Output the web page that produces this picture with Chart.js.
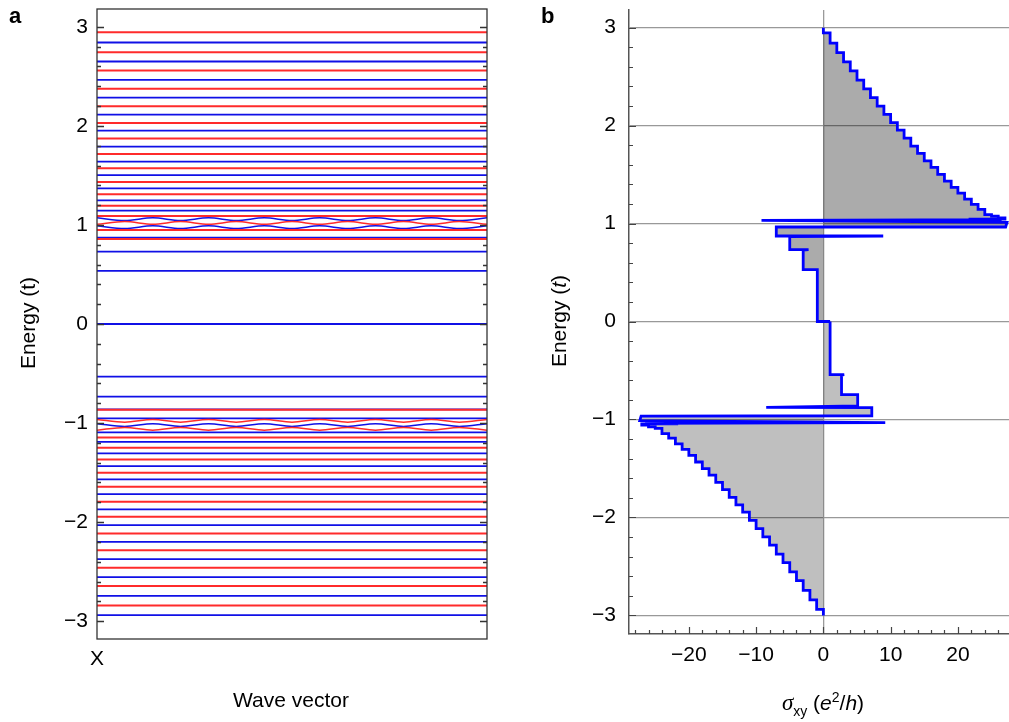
<!DOCTYPE html>
<html>
<head>
<meta charset="utf-8">
<script src="https://cdn.jsdelivr.net/npm/chart.js@4.4.1/dist/chart.umd.min.js"></script>
<style>
	body { margin: 0; background: #fff; width: 1009px; height: 722px; position: relative; overflow: hidden; font-family: 'Liberation Sans', Arial, sans-serif; }
	canvas { position: absolute; top: 0; }
	#chartA { left: 0; }
	#chartB { left: 500px; }
	.txt { position: absolute; color: #000; font-size: 21px; white-space: nowrap; }
	.rot { transform: translate(-50%, -50%) rotate(-90deg); }
	.ctr { transform: translate(-50%, -50%); }
	.sigma { font-family: 'Liberation Serif', serif; font-style: italic; font-size: 23px; }
	sub, sup { font-size: 14px; }
</style>
</head>
<body>
<canvas id="chartA" width="500" height="722"></canvas>
<canvas id="chartB" width="509" height="722"></canvas>
<div class="txt" style="left:9px;top:3px;font-weight:bold;font-size:22px">a</div>
<div class="txt" style="left:541px;top:3px;font-weight:bold;font-size:22px">b</div>
<div class="txt rot" style="left:28px;top:323px">Energy (t)</div>
<div class="txt ctr" style="left:291px;top:700px">Wave vector</div>
<div class="txt rot" style="left:559px;top:321px">Energy (<i>t</i>)</div>
<div class="txt ctr" style="left:823px;top:704px"><span class="sigma">σ</span><sub>xy</sub> (<i>e</i><sup>2</sup>/<i>h</i>)</div>
<script>
// panel a : flat levels (energy in units of t)
const redLevels = [2.946, 2.744, 2.559, 2.374, 2.199, 2.030, 1.872, 1.717, 1.573, 1.434, 1.310, 1.195, 1.091, 0.949, 0.859,
	-0.866, -1.145, -1.249, -1.367, -1.502, -1.643, -1.795, -1.946, -2.114, -2.283, -2.461, -2.646, -2.842];
const blueLevels = [2.842, 2.650, 2.465, 2.286, 2.114, 1.953, 1.791, 1.640, 1.502, 1.370, 1.249, 1.144, 0.872, 0.730, 0.537, 0,
	-0.532, -0.734, -0.862, -0.953, -1.094, -1.190, -1.306, -1.434, -1.569, -1.717, -1.872, -2.030, -2.199, -2.374, -2.556, -2.744, -2.939];

// panel a : oscillating levels near +-1, read at peaks / troughs
const waveK = [0, 0.071, 0.143, 0.214, 0.286, 0.357, 0.429, 0.5, 0.571, 0.643, 0.714, 0.786, 0.857, 0.929, 1];
const redWaves = [
	[1.006, 1.034, 1.006, 1.034, 1.006, 1.034, 1.006, 1.034, 1.006, 1.034, 1.006, 1.034, 1.006, 1.034, 1.006],
	[-1.072, -1.044, -1.072, -1.044, -1.072, -1.044, -1.072, -1.044, -1.072, -1.044, -1.072, -1.044, -1.072, -1.044, -1.072],
	[-0.963, -0.991, -0.963, -0.991, -0.963, -0.991, -0.963, -0.991, -0.963, -0.991, -0.963, -0.991, -0.963, -0.991, -0.963]
];
const blueWaves = [
	[1.072, 1.044, 1.072, 1.044, 1.072, 1.044, 1.072, 1.044, 1.072, 1.044, 1.072, 1.044, 1.072, 1.044, 1.072],
	[0.991, 0.963, 0.991, 0.963, 0.991, 0.963, 0.991, 0.963, 0.991, 0.963, 0.991, 0.963, 0.991, 0.963, 0.991],
	[-1.006, -1.034, -1.006, -1.034, -1.006, -1.034, -1.006, -1.034, -1.006, -1.034, -1.006, -1.034, -1.006, -1.034, -1.006]
];

// panel b : Hall conductivity staircase
const stairUpperE = [2.946, 2.842, 2.744, 2.650, 2.559, 2.465, 2.374, 2.286, 2.199, 2.114, 2.030, 1.953, 1.872,
	1.791, 1.717, 1.640, 1.573, 1.502, 1.434, 1.370, 1.310, 1.249, 1.195, 1.144, 1.091];
const stairUpperSigma = [1, 2, 3, 4, 5, 6, 7, 8, 9, 10, 11, 12, 13, 14, 15, 16, 17, 18, 19, 20, 21, 22, 23, 24, 25];
const coreSigma = [25, 26, 26, 27, 27, 21.8, 21.8, 26.5, -9.2, 27.3, 27.1, -7.0, -7.0, 8.9, -5.0, -5.0, -2.2, -3.0, -3.0, -0.9,
	-0.9, 1.0, 1.0, 3.1, 2.7, 2.7, 5.1, 5.1, -8.5, 7.2, 7.2, -27.1, -27.3, 9.2, -26.5, -21.8, -21.8, -27, -27, -26, -26, -25, -25];
const coreE = [1.075, 1.075, 1.058, 1.058, 1.045, 1.045, 1.04, 1.04, 1.032, 1.012, 0.965, 0.965, 0.873, 0.873, 0.868, 0.734, 0.734,
	0.73, 0.529, 0.529, 0, 0, -0.543, -0.543, -0.548, -0.747, -0.747, -0.862, -0.877, -0.88, -0.962, -0.965, -1.012, -1.032,
	-1.04, -1.04, -1.045, -1.045, -1.058, -1.058, -1.075, -1.075, -1.091];
const stairLowerE = [-1.091, -1.145, -1.190, -1.249, -1.306, -1.367, -1.434, -1.502, -1.569, -1.643, -1.717, -1.795, -1.872,
	-1.946, -2.030, -2.114, -2.199, -2.283, -2.374, -2.461, -2.556, -2.646, -2.744, -2.842, -2.939];
const stairLowerSigma = [-24, -23, -22, -21, -20, -19, -18, -17, -16, -15, -14, -13, -12, -11, -10, -9, -8, -7, -6, -5, -4, -3, -2, -1, 0];

const RED = '#ff2b2b';
const BLUE = '#1010e6';
const FONT = { family: "'Liberation Sans', Arial, sans-serif", size: 21 };

function isInt(v) {
	return Math.abs(v - Math.round(v)) < 1e-6;
}
function fmt(v) {
	const r = Math.round(v);
	return (r < 0 ? '\u2212' : '') + Math.abs(r);
}
// keep the axis boxes exactly where the frame should be
function noPad(s) {
	s.paddingTop = 0;
	s.paddingBottom = 0;
	s.paddingLeft = 0;
	s.paddingRight = 0;
}

// ---------- panel a ----------
const datasetsA = [];
redLevels.forEach(e => {
	datasetsA.push({ data: [{ x: 0, y: e }, { x: 1, y: e }], borderColor: RED, borderWidth: 2 });
});
redWaves.forEach(w => {
	datasetsA.push({ data: waveK.map((k, i) => ({ x: k, y: w[i] })), borderColor: RED, borderWidth: 1.5, cubicInterpolationMode: 'monotone' });
});
blueLevels.forEach(e => {
	datasetsA.push({ data: [{ x: 0, y: e }, { x: 1, y: e }], borderColor: BLUE, borderWidth: 1.8 });
});
blueWaves.forEach(w => {
	datasetsA.push({ data: waveK.map((k, i) => ({ x: k, y: w[i] })), borderColor: BLUE, borderWidth: 1.5, cubicInterpolationMode: 'monotone' });
});

const frameA = {
	id: 'frameA',
	afterDraw(chart) {
		const { ctx, chartArea: a } = chart;
		const y = chart.scales.y;
		ctx.save();
		ctx.strokeStyle = '#333';
		ctx.lineWidth = 1.3;
		ctx.strokeRect(a.left, a.top, a.right - a.left, a.bottom - a.top);
		ctx.beginPath();
		y.ticks.forEach(t => {
			const py = Math.round(y.getPixelForValue(t.value)) + 0.5;
			const len = isInt(t.value) ? 7 : 4;
			ctx.moveTo(a.left, py);
			ctx.lineTo(a.left + len, py);
			ctx.moveTo(a.right, py);
			ctx.lineTo(a.right - len, py);
		});
		ctx.stroke();
		ctx.restore();
	}
};

new Chart(document.getElementById('chartA'), {
	type: 'line',
	data: { datasets: datasetsA },
	options: {
		responsive: false,
		animation: false,
		devicePixelRatio: 1,
		layout: { padding: { top: 9, right: 13, left: 0, bottom: 0 } },
		elements: { point: { radius: 0 } },
		plugins: { legend: { display: false }, tooltip: { enabled: false } },
		scales: {
			x: {
				type: 'linear', min: 0, max: 1,
				afterBuildTicks: s => { s.ticks = [{ value: 0 }]; },
				afterFit: s => { s.height = 83; noPad(s); },
				ticks: { callback: () => 'X', color: '#000', font: FONT, padding: 8, maxRotation: 0 },
				grid: { display: false, drawTicks: false },
				border: { display: false }
			},
			y: {
				type: 'linear', min: -3.18, max: 3.18,
				afterFit: s => { s.width = 97; noPad(s); },
				ticks: {
					stepSize: 0.2, includeBounds: false, autoSkip: false,
					callback: v => (isInt(v) ? fmt(v) : ''),
					color: '#000', font: FONT, padding: 9
				},
				grid: { display: false, drawTicks: false },
				border: { display: false }
			}
		}
	},
	plugins: [frameA]
});

// ---------- panel b ----------
const pathB = [{ x: 0, y: 3 }];
let s = 0;
stairUpperE.forEach((e, i) => {
	pathB.push({ x: s, y: e });
	s = stairUpperSigma[i];
	pathB.push({ x: s, y: e });
});
coreE.forEach((e, i) => pathB.push({ x: coreSigma[i], y: e }));
s = coreSigma[coreSigma.length - 1];
stairLowerE.forEach((e, i) => {
	pathB.push({ x: s, y: e });
	s = stairLowerSigma[i];
	pathB.push({ x: s, y: e });
});
pathB.push({ x: 0, y: -3 });

const split = pathB.findIndex(p => p.y < 0);
const upperB = pathB.slice(0, split);
const lowerB = pathB.slice(split - 1);

const ticksB = {
	id: 'ticksB',
	afterDraw(chart) {
		const { ctx, chartArea: a } = chart;
		const { x, y } = chart.scales;
		ctx.save();
		ctx.strokeStyle = '#444';
		ctx.lineWidth = 1.2;
		ctx.beginPath();
		y.ticks.forEach(t => {
			const py = Math.round(y.getPixelForValue(t.value)) + 0.5;
			ctx.moveTo(a.left, py);
			ctx.lineTo(a.left + (isInt(t.value) ? 7 : 4), py);
		});
		x.ticks.forEach(t => {
			const px = Math.round(x.getPixelForValue(t.value)) + 0.5;
			ctx.moveTo(px, a.bottom);
			ctx.lineTo(px, a.bottom - (Math.round(t.value) % 10 === 0 ? 7 : 4));
		});
		ctx.stroke();
		ctx.restore();
	}
};

new Chart(document.getElementById('chartB'), {
	type: 'line',
	data: {
		datasets: [
			{ data: upperB, borderColor: '#0000ff', borderWidth: 2.8, borderJoinStyle: 'miter', fill: 'origin', backgroundColor: 'rgba(0,0,0,0.33)' },
			{ data: lowerB, borderColor: '#0000ff', borderWidth: 2.8, borderJoinStyle: 'miter', fill: 'origin', backgroundColor: 'rgba(0,0,0,0.25)' }
		]
	},
	options: {
		indexAxis: 'y',
		responsive: false,
		animation: false,
		devicePixelRatio: 1,
		layout: { padding: { top: 10, right: 0, left: 0, bottom: 0 } },
		elements: { point: { radius: 0 } },
		plugins: { legend: { display: false }, tooltip: { enabled: false } },
		scales: {
			x: {
				type: 'linear', min: -28.9, max: 27.6,
				afterFit: s => { s.height = 88; noPad(s); },
				ticks: {
					stepSize: 2, includeBounds: false, autoSkip: false, maxRotation: 0,
					callback: v => (Math.round(v) % 10 === 0 ? fmt(v) : ''),
					color: '#000', font: FONT, padding: 9
				},
				grid: {
					drawTicks: false,
					color: c => (c.tick && Math.round(c.tick.value) === 0 ? '#9a9a9a' : 'rgba(0,0,0,0)'),
					lineWidth: 1.3
				},
				border: { display: true, color: '#555', width: 1.5 }
			},
			y: {
				type: 'linear', min: -3.19, max: 3.18,
				afterFit: s => { s.width = 129; noPad(s); },
				ticks: {
					stepSize: 0.2, includeBounds: false, autoSkip: false,
					callback: v => (isInt(v) ? fmt(v) : ''),
					color: '#000', font: FONT, padding: 13
				},
				grid: {
					drawTicks: false,
					color: c => (c.tick && isInt(c.tick.value) ? '#999' : 'rgba(0,0,0,0)'),
					lineWidth: 1.2
				},
				border: { display: true, color: '#555', width: 1.5 }
			}
		}
	},
	plugins: [ticksB]
});
</script>
</body>
</html>
